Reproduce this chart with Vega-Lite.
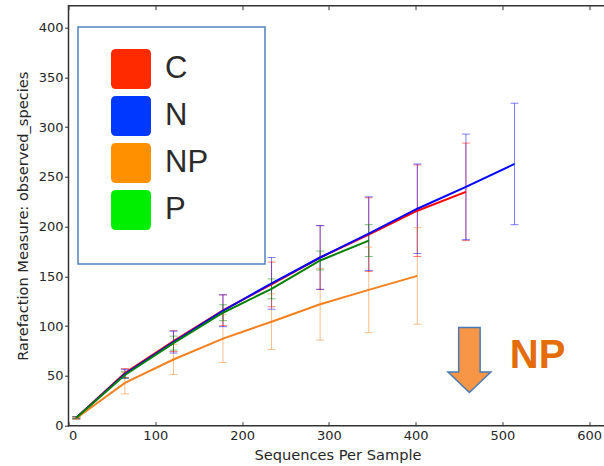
{
  "$schema": "https://vega.github.io/schema/vega-lite/v6.json",
  "width": 538,
  "height": 420,
  "autosize": "none",
  "padding": {"left": 68.5, "top": 5.7, "right": 0, "bottom": 40.3},
  "background": "white",
  "config": {
    "view": {"stroke": "#333333", "strokeWidth": 1.5},
    "legend": {"strokeWidth": 1.5},
    "axis": {
      "labelFont": "DejaVu Sans",
      "labelFontSize": 13,
      "labelColor": "#262626",
      "titleFont": "DejaVu Sans",
      "titleFontSize": 14.6,
      "titleFontWeight": "normal",
      "titleColor": "#262626",
      "domain": false,
      "grid": false,
      "tickColor": "#333333",
      "tickWidth": 1
    }
  },
  "datasets": {
    "rare": [
      {"group": "C", "x": 9, "y": 8, "lo": 7, "hi": 9},
      {"group": "C", "x": 65, "y": 53, "lo": 48.5, "hi": 57.5},
      {"group": "C", "x": 121, "y": 85, "lo": 74.5, "hi": 95.5},
      {"group": "C", "x": 178, "y": 116, "lo": 100.5, "hi": 131.5},
      {"group": "C", "x": 234, "y": 142, "lo": 119.5, "hi": 164.5},
      {"group": "C", "x": 290, "y": 169, "lo": 137, "hi": 201},
      {"group": "C", "x": 346, "y": 192, "lo": 155, "hi": 229},
      {"group": "C", "x": 402, "y": 216, "lo": 170, "hi": 262},
      {"group": "C", "x": 458, "y": 235, "lo": 186, "hi": 284},
      {"group": "N", "x": 9, "y": 8, "lo": 7, "hi": 9},
      {"group": "N", "x": 65, "y": 52, "lo": 47.5, "hi": 56.5},
      {"group": "N", "x": 121, "y": 84, "lo": 73, "hi": 95},
      {"group": "N", "x": 178, "y": 115.5, "lo": 99.5, "hi": 131.5},
      {"group": "N", "x": 234, "y": 143, "lo": 117, "hi": 169},
      {"group": "N", "x": 290, "y": 169, "lo": 137, "hi": 201},
      {"group": "N", "x": 346, "y": 193, "lo": 156, "hi": 230},
      {"group": "N", "x": 402, "y": 218, "lo": 173, "hi": 263},
      {"group": "N", "x": 458, "y": 240, "lo": 187, "hi": 293},
      {"group": "N", "x": 514, "y": 263, "lo": 202, "hi": 324},
      {"group": "NP", "x": 9, "y": 7.5, "lo": 6.5, "hi": 8.5},
      {"group": "NP", "x": 65, "y": 43, "lo": 32, "hi": 54},
      {"group": "NP", "x": 121, "y": 66.5, "lo": 51.5, "hi": 81.5},
      {"group": "NP", "x": 178, "y": 87.5, "lo": 63.5, "hi": 111.5},
      {"group": "NP", "x": 234, "y": 104.5, "lo": 76.5, "hi": 132.5},
      {"group": "NP", "x": 290, "y": 122, "lo": 86, "hi": 158},
      {"group": "NP", "x": 346, "y": 136.5, "lo": 93.5, "hi": 179.5},
      {"group": "NP", "x": 402, "y": 150.5, "lo": 102, "hi": 199},
      {"group": "P", "x": 9, "y": 8, "lo": 7, "hi": 9},
      {"group": "P", "x": 65, "y": 51, "lo": 48, "hi": 54},
      {"group": "P", "x": 121, "y": 83, "lo": 76, "hi": 90},
      {"group": "P", "x": 178, "y": 113.5, "lo": 105.5, "hi": 121.5},
      {"group": "P", "x": 234, "y": 137.5, "lo": 127.5, "hi": 147.5},
      {"group": "P", "x": 290, "y": 166, "lo": 156.5, "hi": 175.5},
      {"group": "P", "x": 346, "y": 186, "lo": 170, "hi": 202}
    ]
  },
  "layer": [
    {
      "data": {"name": "rare"},
      "mark": {"type": "rule", "opacity": 0.5, "strokeWidth": 1},
      "encoding": {
        "x": {"field": "x", "type": "quantitative", "scale": {"domain": [0, 620], "nice": false, "zero": false},
              "axis": {"orient": "top", "labels": false, "title": null, "values": [0, 100, 200, 300, 400, 500, 600], "tickSize": 4, "offset": -4}},
        "y": {"field": "lo", "type": "quantitative", "scale": {"domain": [0, 422], "nice": false}, "axis": null},
        "y2": {"field": "hi"},
        "color": {"field": "group", "type": "nominal", "scale": {"domain": ["C", "N", "NP", "P"], "range": ["#ff0000", "#0000ff", "#f5801e", "#008000"]}, "legend": null}
      }
    },
    {
      "data": {"name": "rare"},
      "mark": {"type": "tick", "orient": "horizontal", "size": 8, "thickness": 1, "opacity": 0.5},
      "encoding": {
        "x": {"field": "x", "type": "quantitative", "axis": null},
        "y": {"field": "lo", "type": "quantitative", "axis": null},
        "color": {"field": "group", "type": "nominal", "scale": {"domain": ["C", "N", "NP", "P"], "range": ["#ff0000", "#0000ff", "#f5801e", "#008000"]}, "legend": null}
      }
    },
    {
      "data": {"name": "rare"},
      "mark": {"type": "tick", "orient": "horizontal", "size": 8, "thickness": 1, "opacity": 0.5},
      "encoding": {
        "x": {"field": "x", "type": "quantitative", "axis": null},
        "y": {"field": "hi", "type": "quantitative", "axis": null},
        "color": {"field": "group", "type": "nominal", "scale": {"domain": ["C", "N", "NP", "P"], "range": ["#ff0000", "#0000ff", "#f5801e", "#008000"]}, "legend": null}
      }
    },
    {
      "data": {"name": "rare"},
      "mark": {"type": "line", "strokeWidth": 2},
      "encoding": {
        "x": {"field": "x", "type": "quantitative", "axis": {"title": "Sequences Per Sample", "values": [0, 100, 200, 300, 400, 500, 600], "tickSize": 4, "offset": -4, "labelPadding": 4, "titlePadding": 5}},
        "y": {"field": "y", "type": "quantitative",
              "axis": {"title": "Rarefaction Measure: observed_species", "values": [0, 50, 100, 150, 200, 250, 300, 350, 400], "tickSize": 4, "labelPadding": 1.5, "titlePadding": 8}},
        "color": {"field": "group", "type": "nominal", "scale": {"domain": ["C", "N", "NP", "P"], "range": ["#ff0000", "#0000ff", "#f5801e", "#008000"]}, "legend": null}
      }
    },
    {
      "data": {"name": "rare"},
      "mark": {"type": "point", "filled": true, "opacity": 0},
      "encoding": {
        "x": {"field": "x", "type": "quantitative", "axis": null},
        "y": {"field": "y", "type": "quantitative", "axis": null},
        "color": {"field": "group", "type": "nominal", "scale": {"domain": ["C", "N", "NP", "P"], "range": ["#ff2a00", "#0038ff", "#ff9100", "#00ee00"]},
          "legend": {
            "orient": "none", "legendX": 9.5, "legendY": 21.3,
            "title": " ", "titleOrient": "bottom", "titleFontSize": 8, "titlePadding": 4,
            "symbolType": "M -0.75 -1 L 0.75 -1 Q 1 -1 1 -0.75 L 1 0.75 Q 1 1 0.75 1 L -0.75 1 Q -1 1 -1 0.75 L -1 -0.75 Q -1 -1 -0.75 -1 Z",
            "symbolSize": 1600, "symbolOpacity": 1, "symbolStrokeWidth": 0,
            "labelFont": "Liberation Sans", "labelFontSize": 31, "labelColor": "#2b2b2b", "labelOffset": 14,
            "labelExpr": "datum.label + '    \u200b'",
            "rowPadding": 7, "padding": 22, "symbolOffset": 11,
            "strokeColor": "#4f81bd", "fillColor": "white"
          }
        }
      }
    },
    {
      "data": {"values": [{"x": 462, "y": 66}]},
      "mark": {"type": "point", "shape": "M -0.33 -1 L 0.33 -1 L 0.33 0.37 L 0.66 0.37 L 0 1 L -0.66 0.37 L -0.33 0.37 Z", "size": 4225, "filled": true, "fill": "#f79646", "stroke": "#4a7ab5", "strokeWidth": 1.5, "opacity": 1},
      "encoding": {
        "x": {"field": "x", "type": "quantitative", "axis": null},
        "y": {"field": "y", "type": "quantitative", "axis": null}
      }
    },
    {
      "data": {"values": [{"x": 508.6, "y": 57.7, "label": "NP"}]},
      "mark": {"type": "text", "font": "Liberation Sans", "fontSize": 40, "fontWeight": "bold", "color": "#e46c0a", "align": "left", "baseline": "alphabetic"},
      "encoding": {
        "x": {"field": "x", "type": "quantitative", "axis": null},
        "y": {"field": "y", "type": "quantitative", "axis": null},
        "text": {"field": "label"}
      }
    }
  ],
  "resolve": {"scale": {"color": "independent"}, "axis": {"x": "independent", "y": "independent"}}
}
